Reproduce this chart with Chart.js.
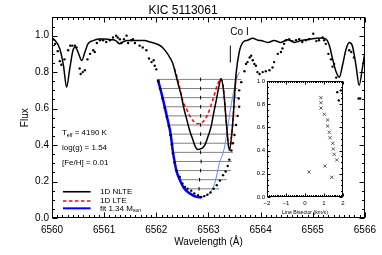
<!DOCTYPE html>
<html>
<head>
<meta charset="utf-8">
<script src="https://cdn.jsdelivr.net/npm/chart.js@4.4.1/dist/chart.umd.min.js"></script>
<style>
body{margin:0;background:#fff;}
#wrap{position:relative;width:382px;height:255px;}
#mainChart{position:absolute;left:0;top:0;}
#insetChart{position:absolute;left:245px;top:75px;}
</style>
</head>
<body>
<div id="wrap">
<canvas id="mainChart" width="382" height="255"></canvas>
<canvas id="insetChart" width="105" height="145"></canvas>
</div>
<script>
'use strict';
var FONT="'Liberation Sans', Arial, sans-serif";

// 1D NLTE synthetic spectrum
var nlteWave=[6560.00,6560.06,6560.15,6560.22,6560.28,6560.34,6560.41,6560.45,6560.50,6560.57,6560.63,6560.69,6560.79,6560.89,6561.01,6561.14,6561.22,6561.30,6561.36,6561.45,6561.78,6561.88,6562.00,6562.10,6562.18,6562.26,6562.32,6562.37,6562.42,6562.48,6562.53,6562.58,6562.64,6562.70,6562.75,6562.80,6562.86,6562.93,6562.99,6563.05,6563.10,6563.15,6563.20,6563.24,6563.29,6563.35,6563.40,6563.46,6563.53,6563.59,6563.66,6563.75,6563.85,6563.95,6564.01,6564.14,6564.26,6564.39,6564.52,6564.65,6564.78,6564.97,6565.16,6565.25,6565.32,6565.38,6565.45,6565.51,6565.57,6565.64,6565.70,6565.76,6565.83,6565.89,6565.95,6566.00];
var nlteFlux=[0.982,0.973,0.927,0.836,0.717,0.818,0.927,0.936,0.909,0.863,0.909,0.955,0.973,0.982,0.982,0.978,0.973,0.955,0.965,0.973,0.973,0.965,0.955,0.940,0.915,0.880,0.845,0.790,0.735,0.670,0.600,0.545,0.480,0.430,0.390,0.375,0.380,0.400,0.445,0.500,0.575,0.645,0.720,0.763,0.700,0.500,0.372,0.500,0.790,0.909,0.963,0.975,0.985,0.975,0.973,0.963,0.973,0.963,0.978,0.963,0.973,0.982,0.987,0.982,0.945,0.873,0.800,0.772,0.836,0.927,0.963,0.945,0.836,0.727,0.818,0.909];

// 1D LTE, only where it departs from NLTE (line core)
var lteWave=[6562.35,6562.42,6562.46,6562.51,6562.575,6562.64,6562.70,6562.80,6562.89,6562.99,6563.08,6563.18,6563.24,6563.29,6563.35,6563.40,6563.46,6563.53];
var lteFlux=[0.820,0.750,0.700,0.640,0.600,0.560,0.535,0.517,0.526,0.572,0.645,0.736,0.763,0.700,0.500,0.372,0.500,0.790];

// fit 1.34 Msun: blue wing (thick) and red wing (thin)
var fitBlueWave=[6562.03,6562.12,6562.20,6562.275,6562.32,6562.35,6562.385,6562.45,6562.54,6562.64,6562.77,6562.86];
var fitBlueFlux=[0.760,0.660,0.560,0.460,0.360,0.310,0.260,0.210,0.160,0.135,0.116,0.113];
var fitRedWave=[6562.86,6562.94,6563.02,6563.12,6563.21,6563.31,6563.37,6563.44,6563.53,6563.59];
var fitRedFlux=[0.113,0.120,0.135,0.190,0.300,0.390,0.500,0.627,0.754,0.800];

// observed spectrum
var obsWave=[6560.02,6560.06,6560.11,6560.15,6560.18,6560.24,6560.31,6560.35,6560.39,6560.44,6560.47,6560.53,6560.55,6560.59,6560.63,6560.68,6560.73,6560.79,6560.82,6560.86,6560.92,6560.98,6561.04,6561.11,6561.17,6561.23,6561.26,6561.30,6561.33,6561.38,6561.43,6561.46,6561.52,6561.55,6561.59,6561.68,6561.74,6561.81,6561.86,6561.91,6561.95,6561.97,6562.00,
  6562.04,6562.07,6562.12,6562.16,6562.20,6562.24,6562.27,6562.30,6562.32,6562.35,6562.39,6562.45,6562.50,6562.55,6562.60,6562.67,6562.73,6562.80,6562.86,6562.92,6562.98,6563.04,6563.10,6563.16,6563.22,6563.28,6563.33,6563.37,6563.40,6563.44,6563.47,6563.50,6563.53,6563.56,6563.59,6563.58,6563.59,6563.63,
  6563.69,6563.72,6563.75,6563.79,6563.82,6563.85,6563.88,6563.91,6563.94,6563.98,6564.04,6564.10,6564.17,6564.23,6564.26,6564.33,6564.39,6564.42,6564.45,6564.49,6564.55,6564.61,6564.68,6564.74,6564.80,6564.87,6564.93,6565.01,6565.07,6565.12,6565.19,6565.22,6565.25,6565.30,6565.35,6565.38,6565.41,6565.45,6565.47,6565.50,6565.54,6565.70,6565.74,6565.79,6565.88,6565.91];
var obsFlux=[0.980,0.955,0.915,0.860,0.840,0.870,0.920,0.945,0.945,0.945,0.935,0.820,0.790,0.800,0.810,0.870,0.900,0.920,0.910,0.960,0.975,0.975,0.965,0.975,0.990,1.000,0.990,0.980,0.960,0.980,1.000,0.960,0.975,0.980,0.960,0.945,0.935,0.920,0.875,0.855,0.865,0.835,0.815,
  0.750,0.710,0.655,0.605,0.555,0.505,0.455,0.405,0.355,0.305,0.260,0.225,0.190,0.170,0.160,0.150,0.135,0.125,0.115,0.120,0.128,0.140,0.160,0.180,0.205,0.235,0.255,0.285,0.320,0.370,0.410,0.455,0.510,0.560,0.610,0.655,0.700,0.745,
  0.805,0.845,0.855,0.880,0.890,0.865,0.845,0.835,0.800,0.790,0.800,0.805,0.810,0.825,0.855,0.900,0.910,0.930,0.955,0.975,0.980,0.970,0.975,0.980,0.965,0.975,0.980,1.010,0.970,0.975,0.990,0.975,0.955,0.900,0.870,0.830,0.845,0.770,0.690,0.645,0.700,0.920,0.910,0.880,0.655,0.655];

// line bisector levels
var bisLevel=[0.76,0.71,0.66,0.61,0.56,0.51,0.46,0.41,0.36,0.31,0.26,0.21,0.16];
var bisLeft=[6562.03,6562.065,6562.12,6562.16,6562.20,6562.24,6562.275,6562.29,6562.32,6562.35,6562.385,6562.45,6562.54];
var bisRight=[6563.63,6563.56,6563.595,6563.55,6563.53,6563.53,6563.50,6563.485,6563.47,6563.45,6563.435,6563.35,6563.21];
var bisCenter=[6562.85,6562.85,6562.85,6562.85,6562.85,6562.85,6562.85,6562.85,6562.85,6562.86,6562.85,6562.83,6562.82];

// Co I marker
var coWave=6563.42;
var coFlux=[0.852,0.945];

// inset: bisector velocity vs depth
var insetVel=[0.84,0.84,0.84,1.02,1.19,1.19,1.28,1.32,1.46,1.49,1.54,1.67,1.05,0.21,1.41];
var insetDepth=[0.856,0.813,0.767,0.713,0.664,0.612,0.558,0.511,0.463,0.414,0.368,0.319,0.267,0.216,0.170];

function toPoints(xs,ys){
  return xs.map(function(x,i){return {x:x,y:ys[i]};});
}

function tickRange(min,max,step){
  var out=[];
  var n=Math.round((max-min)/step);
  for(var i=0;i<=n;i++){out.push(min+i*step);}
  return out;
}

// box frame with inward major/minor ticks on all four sides
var frameTicks={
  id:'frameTicks',
  afterDatasetsDraw:function(chart,args,o){
    var a=chart.chartArea,sx=chart.scales.x,sy=chart.scales.y,ctx=chart.ctx;
    var l=Math.round(a.left)+0.5,r=Math.round(a.right)-0.5,t=Math.round(a.top)+0.5,b=Math.round(a.bottom)-0.5;
    ctx.save();
    ctx.strokeStyle='#000';
    ctx.lineWidth=1;
    ctx.strokeRect(l,t,r-l,b-t);
    ctx.beginPath();
    tickRange(sx.min,sx.max,o.xMinor).forEach(function(v){
      var isMajor=Math.abs(v/o.xMajor-Math.round(v/o.xMajor))<1e-6;
      var len=isMajor?o.majorLen:o.minorLen;
      var px=Math.round(sx.getPixelForValue(v))+0.5;
      ctx.moveTo(px,b);ctx.lineTo(px,b-len);
      ctx.moveTo(px,t);ctx.lineTo(px,t+len);
    });
    tickRange(sy.min,sy.max,o.yMinor).forEach(function(v){
      var isMajor=Math.abs(v/o.yMajor-Math.round(v/o.yMajor))<1e-6;
      var len=isMajor?o.majorLen:o.minorLen;
      var py=Math.round(sy.getPixelForValue(v))+0.5;
      ctx.moveTo(l,py);ctx.lineTo(l+len,py);
      ctx.moveTo(r,py);ctx.lineTo(r-len,py);
    });
    ctx.stroke();
    ctx.restore();
  }
};

function textWithSub(ctx,main,sub,rest,x,y,size){
  ctx.font=size+'px '+FONT;
  ctx.fillText(main,x,y);
  x+=ctx.measureText(main).width;
  ctx.font=(size*0.65)+'px '+FONT;
  ctx.fillText(sub,x,y+2);
  x+=ctx.measureText(sub).width;
  ctx.font=size+'px '+FONT;
  ctx.fillText(rest,x,y);
}

// Co I label, stellar parameters and the legend
var annotations={
  id:'annotations',
  afterDraw:function(chart){
    var ctx=chart.ctx,sx=chart.scales.x,sy=chart.scales.y;
    ctx.save();
    ctx.fillStyle='#000';
    ctx.textBaseline='middle';
    ctx.textAlign='left';
    ctx.font='10px '+FONT;
    ctx.fillText('Co I',sx.getPixelForValue(coWave),sy.getPixelForValue(1.016));

    var tx=sx.getPixelForValue(6560.19);
    textWithSub(ctx,'T','eff',' = 4190 K',tx,sy.getPixelForValue(0.465),8);
    ctx.font='8px '+FONT;
    ctx.fillText('log(g) = 1.54',tx,sy.getPixelForValue(0.383));
    ctx.fillText('[Fe/H] = 0.01',tx,sy.getPixelForValue(0.300));

    var lx0=sx.getPixelForValue(6560.21),lx1=sx.getPixelForValue(6560.74),lt=sx.getPixelForValue(6560.92);
    var rows=[
      {y:0.144,color:'#000',width:1.6,dash:[],text:'1D NLTE'},
      {y:0.093,color:'#ff0000',width:1.6,dash:[3.5,2.5],text:'1D LTE'},
      {y:0.053,color:'#0000ff',width:2,dash:[],text:'fit 1.34 M'}
    ];
    rows.forEach(function(row){
      var py=sy.getPixelForValue(row.y);
      ctx.beginPath();
      ctx.setLineDash(row.dash);
      ctx.strokeStyle=row.color;
      ctx.lineWidth=row.width;
      ctx.moveTo(lx0,py);ctx.lineTo(lx1,py);
      ctx.stroke();
      ctx.setLineDash([]);
      if(row.text==='fit 1.34 M'){
        textWithSub(ctx,row.text,'sun','',lt,py,8);
      }else{
        ctx.font='8px '+FONT;
        ctx.fillText(row.text,lt,py);
      }
    });
    ctx.restore();
  }
};

var mainDatasets=[
  {data:toPoints([coWave,coWave],coFlux),showLine:true,borderColor:'#000',borderWidth:1,pointRadius:0,order:0},
  {data:toPoints(bisCenter,bisLevel),pointStyle:'line',rotation:90,pointRadius:1.8,borderColor:'#000',borderWidth:1,order:1},
  {data:toPoints(obsWave,obsFlux),pointRadius:1.2,pointBorderWidth:0,backgroundColor:'#000',borderColor:'#000',order:2},
  {data:toPoints(nlteWave,nlteFlux),showLine:true,cubicInterpolationMode:'monotone',borderColor:'#000',borderWidth:1.5,pointRadius:0,order:3},
  {data:toPoints(lteWave,lteFlux),showLine:true,cubicInterpolationMode:'monotone',borderColor:'#ff0000',borderWidth:1.5,borderDash:[3.5,2.5],pointRadius:0,order:4},
  {data:toPoints(fitBlueWave,fitBlueFlux),showLine:true,cubicInterpolationMode:'monotone',borderColor:'#0000ff',borderWidth:2.5,pointRadius:0,order:5},
  {data:toPoints(fitRedWave,fitRedFlux),showLine:true,cubicInterpolationMode:'monotone',borderColor:'#5a8cf0',borderWidth:1,pointRadius:0,order:6}
];
for(var i=0;i<bisLevel.length;i++){
  mainDatasets.push({
    data:[{x:bisLeft[i],y:bisLevel[i]},{x:bisRight[i],y:bisLevel[i]}],
    showLine:true,borderColor:'#808080',borderWidth:1,pointRadius:0,order:7
  });
}

Chart.defaults.font.family=FONT;
Chart.defaults.color='#000';

var mainChart=new Chart(document.getElementById('mainChart'),{
  type:'scatter',
  data:{datasets:mainDatasets},
  options:{
    responsive:false,
    animation:false,
    devicePixelRatio:1,
    layout:{padding:{left:0,right:16,top:0,bottom:0}},
    plugins:{
      legend:{display:false},
      tooltip:{enabled:false},
      title:{display:true,text:'KIC 5113061',color:'#000',font:{size:12,weight:'normal',lineHeight:1.2},padding:{top:3,bottom:0}},
      frameTicks:{xMajor:1,xMinor:0.1,yMajor:0.2,yMinor:0.05,majorLen:5,minorLen:2.5}
    },
    scales:{
      x:{
        type:'linear',min:6560,max:6566,
        border:{display:false},
        grid:{display:false,drawTicks:false},
        ticks:{stepSize:1,autoSkip:false,maxRotation:0,padding:6,font:{size:10},callback:function(v){return String(v);}},
        title:{display:true,text:'Wavelength (Å)',font:{size:10},padding:{top:0,bottom:7}},
        afterFit:function(s){s.height=37;}
      },
      y:{
        type:'linear',min:0,max:1.1,
        border:{display:false},
        grid:{display:false,drawTicks:false},
        ticks:{stepSize:0.2,includeBounds:false,padding:3,font:{size:10},callback:function(v){return v.toFixed(1);}},
        title:{display:true,text:'Flux',font:{size:10},padding:{top:19,bottom:0}},
        afterFit:function(s){s.width=52;}
      }
    }
  },
  plugins:[frameTicks,annotations]
});

var insetChart=new Chart(document.getElementById('insetChart'),{
  type:'scatter',
  data:{datasets:[{
    data:toPoints(insetVel,insetDepth),
    pointStyle:'crossRot',pointRadius:2.3,borderColor:'#333',borderWidth:0.8
  }]},
  options:{
    responsive:false,
    animation:false,
    devicePixelRatio:1,
    layout:{padding:{left:0,right:7,top:6,bottom:0}},
    plugins:{
      legend:{display:false},
      tooltip:{enabled:false},
      frameTicks:{xMajor:1,xMinor:0.1,yMajor:0.2,yMinor:0.05,majorLen:3,minorLen:1.5}
    },
    scales:{
      x:{
        type:'linear',min:-2,max:2,
        border:{display:false},
        grid:{display:false,drawTicks:false},
        ticks:{stepSize:1,autoSkip:false,maxRotation:0,padding:3,font:{size:6},callback:function(v){return v<0?'\u2212'+Math.abs(v):String(v);}},
        title:{display:true,text:'Line Bisector (km/s)',font:{size:5.2},padding:{top:0,bottom:4.7}},
        afterFit:function(s){s.height=23;}
      },
      y:{
        type:'linear',min:0,max:1,
        border:{display:false},
        grid:{display:false,drawTicks:false},
        ticks:{stepSize:0.2,padding:2,font:{size:6},callback:function(v){return v.toFixed(1);}},
        afterFit:function(s){s.width=22;}
      }
    }
  },
  plugins:[frameTicks]
});
</script>
</body>
</html>
